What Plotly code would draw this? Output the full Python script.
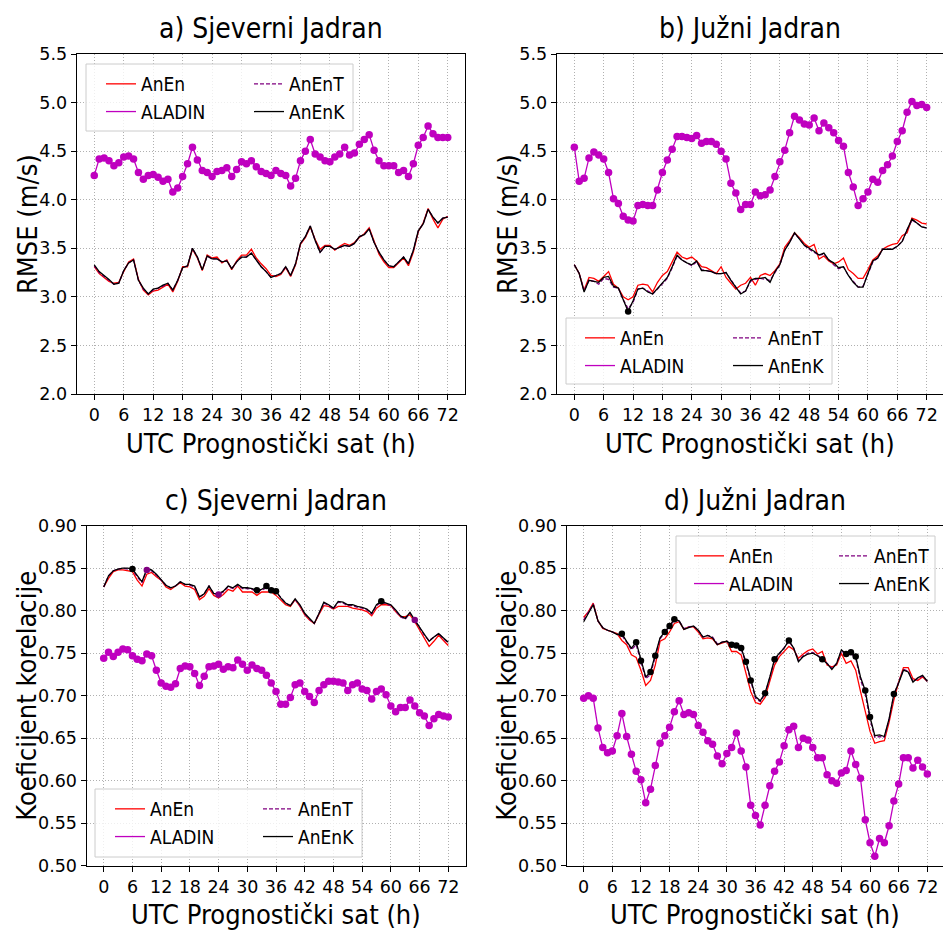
import plotly.graph_objects as go

W, H = 943, 930
hours = list(range(73))
x_tick_vals = list(range(0, 73, 6))
rmse_ticks = [2.0, 2.5, 3.0, 3.5, 4.0, 4.5, 5.0, 5.5]
corr_ticks = [0.50, 0.55, 0.60, 0.65, 0.70, 0.75, 0.80, 0.85, 0.90]

panel_titles = ["a) Sjeverni Jadran", "b) Južni Jadran", "c) Sjeverni Jadran", "d) Južni Jadran"]
y_titles = ["RMSE (m/s)", "RMSE (m/s)", "Koeficijent korelacije", "Koeficijent korelacije"]
x_title = "UTC Prognostički sat (h)"
series_names = ["AnEn", "ALADIN", "AnEnT", "AnEnK"]

# ---------------- a) RMSE, Sjeverni Jadran ----------------
rmse_sj_aladin = [4.25,4.42,4.43,4.40,4.35,4.38,4.44,4.45,4.42,4.28,
                  4.21,4.25,4.26,4.23,4.19,4.21,4.08,4.12,4.24,4.37,
                  4.54,4.41,4.30,4.28,4.24,4.29,4.30,4.33,4.24,4.31,
                  4.39,4.37,4.40,4.34,4.29,4.27,4.25,4.30,4.27,4.25,
                  4.14,4.22,4.40,4.50,4.62,4.47,4.44,4.40,4.39,4.44,
                  4.47,4.54,4.46,4.48,4.57,4.62,4.67,4.51,4.40,4.35,
                  4.35,4.35,4.28,4.30,4.24,4.37,4.56,4.64,4.76,4.68,
                  4.64,4.64,4.64]
rmse_sj_anenk = [3.33,3.26,3.22,3.18,3.13,3.14,3.27,3.35,3.38,3.17,
                 3.09,3.03,3.08,3.09,3.12,3.14,3.07,3.17,3.30,3.32,
                 3.50,3.41,3.28,3.42,3.39,3.39,3.36,3.37,3.29,3.36,
                 3.41,3.41,3.45,3.38,3.31,3.26,3.20,3.22,3.24,3.31,
                 3.22,3.34,3.55,3.62,3.73,3.58,3.46,3.52,3.52,3.49,
                 3.51,3.53,3.52,3.55,3.62,3.64,3.70,3.56,3.46,3.38,
                 3.32,3.31,3.36,3.41,3.34,3.48,3.68,3.75,3.90,3.82,
                 3.76,3.81,3.82]
rmse_sj_anent = [3.32,3.25,3.21,3.17,3.13,3.14,3.27,3.35,3.38,3.17,
                 3.08,3.03,3.07,3.09,3.11,3.14,3.07,3.17,3.30,3.32,
                 3.50,3.41,3.28,3.42,3.39,3.39,3.36,3.37,3.29,3.36,
                 3.41,3.41,3.45,3.38,3.31,3.26,3.20,3.22,3.24,3.31,
                 3.22,3.34,3.55,3.62,3.73,3.58,3.46,3.52,3.52,3.49,
                 3.51,3.53,3.52,3.55,3.62,3.64,3.70,3.56,3.46,3.38,
                 3.32,3.31,3.36,3.41,3.34,3.48,3.68,3.75,3.90,3.82,
                 3.76,3.81,3.82]
rmse_sj_anen = [3.31,3.24,3.20,3.16,3.14,3.15,3.26,3.36,3.39,3.18,
                3.07,3.02,3.06,3.07,3.10,3.13,3.05,3.16,3.31,3.31,
                3.49,3.40,3.27,3.43,3.40,3.41,3.35,3.38,3.28,3.37,
                3.43,3.43,3.49,3.40,3.34,3.29,3.22,3.21,3.23,3.30,
                3.21,3.33,3.54,3.61,3.72,3.59,3.49,3.53,3.53,3.48,
                3.52,3.55,3.53,3.56,3.61,3.65,3.71,3.57,3.44,3.36,
                3.30,3.30,3.35,3.40,3.32,3.46,3.67,3.76,3.91,3.80,
                3.71,3.80,3.83]

# ---------------- b) RMSE, Južni Jadran ----------------
rmse_jj_aladin = [4.54,4.19,4.22,4.43,4.49,4.46,4.42,4.28,4.01,3.96,
                  3.83,3.79,3.78,3.94,3.95,3.94,3.94,4.10,4.28,4.41,
                  4.52,4.65,4.65,4.64,4.63,4.66,4.58,4.60,4.60,4.57,
                  4.50,4.42,4.17,4.07,3.90,3.95,3.95,4.08,4.04,4.05,
                  4.10,4.24,4.39,4.51,4.69,4.86,4.82,4.78,4.77,4.84,
                  4.71,4.79,4.74,4.69,4.61,4.55,4.28,4.13,3.94,4.01,
                  4.08,4.21,4.18,4.30,4.36,4.45,4.60,4.71,4.90,5.01,
                  4.97,4.98,4.95]
rmse_jj_anenk = [3.33,3.24,3.05,3.17,3.16,3.15,3.20,3.21,3.11,3.09,
                 2.97,2.85,2.96,3.08,3.09,3.05,3.03,3.09,3.14,3.20,
                 3.31,3.43,3.38,3.35,3.33,3.37,3.27,3.27,3.26,3.24,
                 3.24,3.25,3.17,3.10,3.03,3.06,3.17,3.19,3.19,3.20,
                 3.15,3.26,3.33,3.48,3.56,3.66,3.60,3.53,3.50,3.47,
                 3.43,3.45,3.38,3.35,3.30,3.31,3.22,3.15,3.10,3.10,
                 3.24,3.37,3.40,3.49,3.49,3.49,3.52,3.57,3.69,3.80,
                 3.76,3.72,3.71]
rmse_jj_anent = [3.33,3.24,3.06,3.17,3.16,3.13,3.19,3.18,3.10,3.09,
                 2.97,2.88,2.94,3.08,3.09,3.06,3.03,3.08,3.13,3.19,
                 3.30,3.42,3.38,3.35,3.32,3.36,3.28,3.27,3.26,3.24,
                 3.24,3.25,3.17,3.10,3.04,3.06,3.16,3.18,3.19,3.18,
                 3.17,3.25,3.33,3.48,3.56,3.65,3.60,3.53,3.49,3.46,
                 3.43,3.44,3.38,3.33,3.29,3.31,3.22,3.16,3.10,3.11,
                 3.24,3.36,3.40,3.49,3.49,3.49,3.52,3.57,3.69,3.79,
                 3.76,3.72,3.71]
rmse_jj_anen = [3.33,3.24,3.07,3.20,3.19,3.16,3.21,3.26,3.13,3.09,
                3.00,2.97,3.00,3.12,3.13,3.12,3.05,3.15,3.22,3.26,
                3.36,3.46,3.41,3.39,3.41,3.37,3.31,3.30,3.27,3.24,
                3.31,3.20,3.14,3.08,3.12,3.14,3.20,3.12,3.22,3.24,
                3.22,3.27,3.34,3.51,3.58,3.66,3.61,3.55,3.51,3.54,
                3.39,3.42,3.37,3.34,3.36,3.40,3.28,3.24,3.19,3.19,
                3.28,3.38,3.42,3.49,3.52,3.54,3.55,3.63,3.66,3.81,
                3.79,3.76,3.75]

# ---------------- c) correlation, Sjeverni Jadran ----------------
corr_sj_aladin = [0.744,0.751,0.746,0.751,0.755,0.754,0.747,0.743,0.741,0.749,
                  0.747,0.730,0.715,0.711,0.710,0.714,0.732,0.735,0.734,0.726,
                  0.712,0.723,0.734,0.735,0.737,0.731,0.734,0.733,0.742,0.737,
                  0.730,0.736,0.732,0.730,0.724,0.715,0.705,0.690,0.690,0.698,
                  0.713,0.715,0.705,0.699,0.692,0.706,0.713,0.717,0.717,0.716,
                  0.715,0.706,0.713,0.715,0.708,0.706,0.696,0.705,0.708,0.701,
                  0.688,0.681,0.686,0.686,0.695,0.688,0.680,0.676,0.665,0.673,
                  0.678,0.676,0.675]
corr_sj_anenk = [0.828,0.841,0.847,0.849,0.850,0.850,0.849,0.841,0.834,0.849,
                 0.848,0.843,0.836,0.830,0.827,0.829,0.834,0.831,0.831,0.829,
                 0.816,0.820,0.829,0.820,0.820,0.823,0.829,0.827,0.831,0.827,
                 0.827,0.826,0.824,0.825,0.829,0.824,0.823,0.815,0.809,0.806,
                 0.814,0.807,0.797,0.791,0.785,0.797,0.810,0.807,0.803,0.811,
                 0.810,0.807,0.807,0.805,0.804,0.802,0.797,0.807,0.811,0.809,
                 0.807,0.801,0.794,0.791,0.798,0.789,0.781,0.772,0.764,0.769,
                 0.773,0.768,0.763]
corr_sj_anent = [0.828,0.841,0.847,0.849,0.850,0.849,0.848,0.840,0.833,0.848,
                 0.847,0.842,0.836,0.830,0.827,0.829,0.834,0.831,0.830,0.828,
                 0.816,0.820,0.829,0.820,0.819,0.822,0.828,0.826,0.830,0.826,
                 0.826,0.825,0.823,0.824,0.827,0.823,0.822,0.815,0.809,0.806,
                 0.813,0.806,0.796,0.790,0.785,0.797,0.809,0.806,0.802,0.810,
                 0.809,0.806,0.806,0.804,0.803,0.801,0.796,0.806,0.810,0.808,
                 0.806,0.800,0.793,0.790,0.797,0.789,0.780,0.771,0.765,0.769,
                 0.773,0.767,0.762]
corr_sj_anen = [0.828,0.838,0.846,0.848,0.848,0.847,0.846,0.836,0.829,0.843,
                0.845,0.840,0.836,0.828,0.825,0.829,0.833,0.829,0.828,0.825,
                0.813,0.817,0.826,0.818,0.815,0.819,0.825,0.823,0.829,0.822,
                0.822,0.822,0.818,0.822,0.822,0.822,0.818,0.813,0.807,0.805,
                0.813,0.805,0.795,0.789,0.785,0.796,0.806,0.805,0.802,0.805,
                0.805,0.805,0.803,0.802,0.801,0.799,0.794,0.803,0.807,0.807,
                0.806,0.799,0.793,0.793,0.795,0.787,0.777,0.767,0.758,0.764,
                0.771,0.765,0.759]

# ---------------- d) correlation, Južni Jadran ----------------
corr_jj_aladin = [0.697,0.700,0.697,0.662,0.639,0.633,0.635,0.653,0.679,0.652,
                  0.631,0.611,0.601,0.574,0.590,0.618,0.644,0.653,0.663,0.681,
                  0.694,0.678,0.680,0.678,0.665,0.657,0.647,0.643,0.629,0.620,
                  0.632,0.639,0.656,0.635,0.616,0.571,0.559,0.548,0.571,0.594,
                  0.611,0.622,0.641,0.660,0.664,0.639,0.650,0.648,0.639,0.627,
                  0.627,0.607,0.600,0.597,0.609,0.612,0.635,0.619,0.603,0.554,
                  0.527,0.511,0.532,0.527,0.547,0.576,0.596,0.627,0.627,0.615,
                  0.624,0.616,0.608]
corr_jj_anenk = [0.787,0.797,0.807,0.788,0.780,0.777,0.775,0.772,0.773,0.764,
                 0.756,0.763,0.741,0.722,0.728,0.747,0.768,0.775,0.782,0.790,
                 0.788,0.778,0.780,0.782,0.777,0.769,0.771,0.768,0.760,0.763,
                 0.764,0.760,0.759,0.756,0.740,0.718,0.699,0.694,0.703,0.722,
                 0.743,0.750,0.756,0.765,0.756,0.740,0.746,0.749,0.750,0.747,
                 0.743,0.738,0.731,0.738,0.754,0.749,0.751,0.746,0.722,0.706,
                 0.675,0.653,0.654,0.652,0.673,0.702,0.715,0.730,0.728,0.716,
                 0.721,0.724,0.717]
corr_jj_anent = [0.789,0.798,0.808,0.788,0.780,0.777,0.775,0.772,0.771,0.763,
                 0.754,0.760,0.739,0.720,0.725,0.745,0.767,0.774,0.781,0.789,
                 0.788,0.779,0.781,0.782,0.777,0.769,0.771,0.769,0.761,0.763,
                 0.764,0.759,0.757,0.755,0.738,0.716,0.697,0.693,0.702,0.721,
                 0.742,0.749,0.756,0.764,0.756,0.741,0.747,0.750,0.751,0.748,
                 0.744,0.738,0.732,0.738,0.753,0.748,0.750,0.744,0.719,0.702,
                 0.672,0.651,0.652,0.651,0.672,0.701,0.715,0.731,0.729,0.717,
                 0.720,0.723,0.717]
corr_jj_anen = [0.792,0.799,0.809,0.788,0.779,0.777,0.775,0.773,0.765,0.760,
                0.748,0.745,0.730,0.712,0.718,0.736,0.764,0.767,0.775,0.785,
                0.787,0.778,0.781,0.781,0.775,0.767,0.768,0.767,0.760,0.762,
                0.764,0.752,0.752,0.748,0.728,0.705,0.692,0.690,0.698,0.716,
                0.736,0.746,0.752,0.758,0.754,0.744,0.749,0.753,0.755,0.749,
                0.752,0.736,0.734,0.736,0.750,0.738,0.741,0.730,0.705,0.683,
                0.658,0.644,0.646,0.647,0.669,0.695,0.716,0.733,0.733,0.720,
                0.718,0.722,0.717]

# hours marked with a dot on the AnEnK / AnEnT curves
mark_k = [[], [11], [6, 32, 34, 35, 36, 58],
          [8, 11, 12, 14, 15, 17, 18, 19, 31, 32, 33, 34, 35, 38, 40, 43, 50, 55, 56, 57, 59, 60, 65]]
mark_t = [[], [], [9, 24, 65], []]

panel_data = [
    (rmse_sj_anen, rmse_sj_aladin, rmse_sj_anent, rmse_sj_anenk),
    (rmse_jj_anen, rmse_jj_aladin, rmse_jj_anent, rmse_jj_anenk),
    (corr_sj_anen, corr_sj_aladin, corr_sj_anent, corr_sj_anenk),
    (corr_jj_anen, corr_jj_aladin, corr_jj_anent, corr_jj_anenk),
]

# ---------------- layout geometry (pixels) ----------------
boxes = [(76.6, 465.4, 54, 394), (556.7, 943, 54, 394),
         (86.5, 465.5, 525.7, 865.7), (566.5, 943, 525.7, 865.7)]
x_ranges = [[-3.6, 75.6], [-3.6, 75.34], [-3.6, 75.6], [-3.6, 75.29]]
# legend frame (left, right, top, bottom) and text start of the two columns
legend_frames = [(86, 353, 64, 131), (566, 832, 318, 384), (95, 362, 789, 857), (676, 935, 536, 603)]
legend_cols = [(142, 290), (621, 769), (151, 299), (730, 875)]
ytitle_x = [27, 507, 27, 507]

COND = "'DejaVu Sans Condensed', 'Liberation Sans Narrow', 'DejaVu Sans'"
TICKF = "DejaVu Sans"
C_ANEN = "#ff0000"
C_ALADIN = "#bf00bf"
C_ANENT = "#800080"
C_ANENK = "#000000"

fig = go.Figure()
layout = dict(width=W, height=H, margin=dict(l=0, r=0, t=0, b=0, pad=0, autoexpand=False),
              paper_bgcolor="white", plot_bgcolor="white", showlegend=True,
              annotations=[], shapes=[])

for i in range(4):
    sfx = "" if i == 0 else str(i + 1)
    xa, ya = "x" + sfx, "y" + sfx
    lg1 = "legend" + ("" if i == 0 else str(2 * i + 1))
    lg2 = "legend" + str(2 * i + 2)
    anen, aladin, anent, anenk = panel_data[i]
    fig.add_trace(go.Scatter(x=hours, y=anen, mode="lines", name=series_names[0], legend=lg1,
                             xaxis=xa, yaxis=ya, line=dict(color=C_ANEN, width=1.3)))
    fig.add_trace(go.Scatter(x=hours, y=aladin, mode="lines", name=series_names[1], legend=lg1,
                             xaxis=xa, yaxis=ya, line=dict(color=C_ALADIN, width=1.3)))
    fig.add_trace(go.Scatter(x=hours, y=anent, mode="lines", name=series_names[2], legend=lg2,
                             xaxis=xa, yaxis=ya, line=dict(color=C_ANENT, width=1.3, dash="4px,2px")))
    fig.add_trace(go.Scatter(x=hours, y=anenk, mode="lines", name=series_names[3], legend=lg2,
                             xaxis=xa, yaxis=ya, line=dict(color=C_ANENK, width=1.3)))
    fig.add_trace(go.Scatter(x=hours, y=aladin, mode="markers", showlegend=False, xaxis=xa, yaxis=ya,
                             marker=dict(color=C_ALADIN, size=7.5)))
    if mark_t[i]:
        fig.add_trace(go.Scatter(x=mark_t[i], y=[anent[h] for h in mark_t[i]], mode="markers",
                                 showlegend=False, xaxis=xa, yaxis=ya,
                                 marker=dict(color=C_ANENT, size=6.5)))
    if mark_k[i]:
        fig.add_trace(go.Scatter(x=mark_k[i], y=[anenk[h] for h in mark_k[i]], mode="markers",
                                 showlegend=False, xaxis=xa, yaxis=ya,
                                 marker=dict(color=C_ANENK, size=6.5)))

    l, r, t, b = boxes[i]
    is_rmse = i < 2
    axis_common = dict(ticks="outside", ticklen=5, tickwidth=1, tickcolor="black",
                       showline=True, linecolor="black", linewidth=1, mirror=True,
                       showgrid=True, gridcolor="#b0b0b0", gridwidth=0.8, griddash="1px,2px",
                       zeroline=False, automargin=False,
                       tickfont=dict(family=TICKF, size=17.5, color="black"))
    layout["xaxis" + sfx] = dict(domain=[l / W, r / W], anchor=ya, range=x_ranges[i],
                                 tickmode="array", tickvals=x_tick_vals, **axis_common)
    layout["yaxis" + sfx] = dict(domain=[1 - b / H, 1 - t / H], anchor=xa,
                                 range=[2.0, 5.5] if is_rmse else [0.5, 0.9],
                                 tickmode="array", tickvals=rmse_ticks if is_rmse else corr_ticks,
                                 tickformat=".1f" if is_rmse else ".2f", **axis_common)

    fl, fr, ft, fb = legend_frames[i]
    layout["shapes"].append(dict(type="rect", xref="paper", yref="paper",
                                 x0=fl / W, x1=fr / W, y0=1 - fb / H, y1=1 - ft / H,
                                 fillcolor="rgba(255,255,255,0.8)", line=dict(color="#cccccc", width=1),
                                 layer="above"))
    for lg, tx in ((lg1, legend_cols[i][0]), (lg2, legend_cols[i][1])):
        layout[lg] = dict(x=(tx - 41) / W, y=1 - (ft + 1) / H, xanchor="left", yanchor="top",
                          orientation="v", bgcolor="rgba(0,0,0,0)", borderwidth=0,
                          font=dict(family=COND, size=19, color="black"), itemwidth=30)

    cx = (l + r) / 2
    layout["annotations"].append(dict(text=panel_titles[i], x=cx / W, y=1 - (t - 25) / H,
                                      xref="paper", yref="paper", xanchor="center", yanchor="middle",
                                      showarrow=False, font=dict(family=COND, size=28, color="black")))
    layout["annotations"].append(dict(text=x_title, x=cx / W, y=1 - (b + 49) / H,
                                      xref="paper", yref="paper", xanchor="center", yanchor="middle",
                                      showarrow=False, font=dict(family=COND, size=27, color="black")))
    layout["annotations"].append(dict(text=y_titles[i], x=ytitle_x[i] / W, y=1 - ((t + b) / 2) / H,
                                      xref="paper", yref="paper", xanchor="center", yanchor="middle",
                                      textangle=-90, showarrow=False,
                                      font=dict(family=COND, size=27, color="black")))

fig.update_layout(**layout)
fig.write_html(
    "out.html",
    config={"displayModeBar": False},
    post_script=(
        "document.body.style.margin='0px';document.body.style.padding='0px';"
        "var gd=document.getElementsByClassName('plotly-graph-div')[0];"
        "gd.style.position='absolute';gd.style.left='0px';gd.style.top='0px';"
    ),
)
